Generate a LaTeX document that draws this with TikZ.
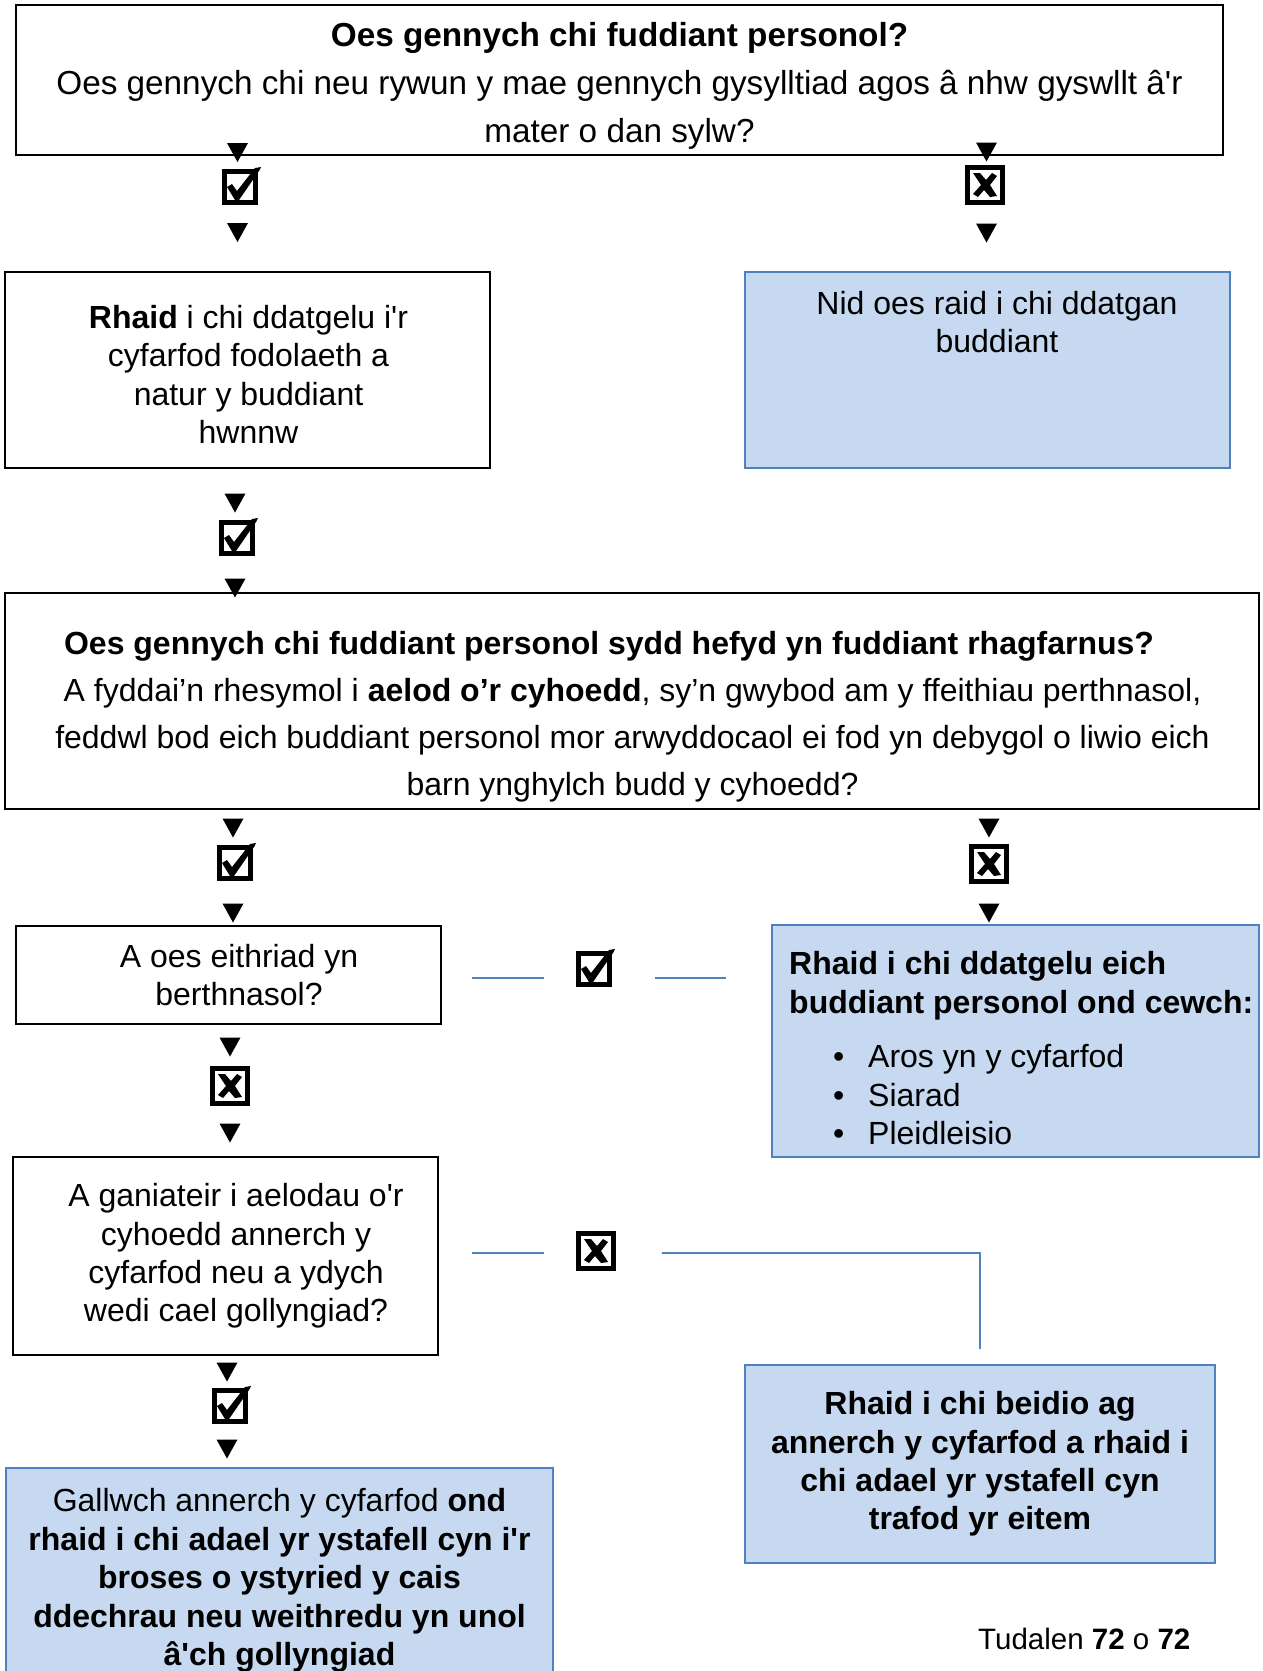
\documentclass[tikz,border=0pt]{standalone}
\usepackage{fontspec}
\setmainfont{Liberation Sans}[Ligatures=TeXOff]
\definecolor{lineblue}{RGB}{79,129,189}
\definecolor{fillblue}{RGB}{198,217,240}
\tikzset{
  x=1pt, y=-1pt,
  txt/.style={font=\fontsize{32}{38.4}\selectfont, align=center, inner sep=0pt},
  blackbox/.style={draw=black, line width=1.8pt, inner sep=0pt},
  bluebox/.style={draw=lineblue, fill=fillblue, line width=1.8pt, inner sep=0pt},
  symbox/.style={draw=black, line width=4.5pt, minimum size=31pt, inner sep=0pt},
  xbox/.style={draw=black, line width=5pt, minimum size=35pt, inner sep=0pt},
  bline/.style={draw=lineblue, line width=1.8pt},
}
\newcommand\tickbox[3]{%
  \node[symbox] (#1) at (#2,#3) {};
  \fill[shift={(#1.center)}] (-13,0) -- (-8,-3) -- (-3,4) -- (15,-19) -- (21,-20) -- (19,-16) -- (-1,13) -- (-5,13) -- cycle;
}
\newcommand\crossbox[3]{%
  \node[xbox] (#1) at (#2,#3) {};
  \fill[shift={(#1.center)}] (-12,-12) -- (-5,-12) -- (1,-5) -- (7,-12) -- (12,-9) -- (5,0) -- (12,11) -- (5,12) -- (-1,5) -- (-7,12) -- (-12,9) -- (-4,0) -- cycle;
}
\newcommand\tri[3]{%
  \coordinate (#1) at (#2,#3);
  \fill ([shift={(-10.5,-9.5)}]#1) -- ([shift={(10.5,-9.5)}]#1) -- ([shift={(0,9.5)}]#1) -- cycle;
}
\begin{document}
\begin{tikzpicture}
\clip (0,0) rectangle (1262,1671);
\fill[white] (0,0) rectangle (1262,1671);

% top question
\node[blackbox, minimum width=1207pt, minimum height=150pt] (q1) at (619.5,80) {};
\node[txt, font=\fontsize{33.3}{48}\selectfont] (q1t) at (619.5,85.5)
  {\textbf{Oes gennych chi fuddiant personol?}\\
   Oes gennych chi neu rywun y mae gennych gysylltiad agos â nhw gyswllt â'r\\
   mater o dan sylw?};

\tri{a1}{237.5}{152.5}
\tickbox{s1}{240}{187}
\tri{a2}{237.5}{232.5}
\tri{a3}{986.5}{152}
\crossbox{s2}{985}{185}
\tri{a4}{986.5}{233}

% second row
\node[blackbox, minimum width=485pt, minimum height=196pt] (b2) at (247.5,370) {};
\node[txt] (b2t) at (248.5,374.5)
  {\textbf{Rhaid} i chi ddatgelu i'r\\ cyfarfod fodolaeth a\\ natur y buddiant\\ hwnnw};
\node[bluebox, minimum width=485pt, minimum height=196pt] (b3) at (987.5,370) {};
\node[txt] (b3t) at (997,322) {Nid oes raid i chi ddatgan\\ buddiant};

\tri{a5}{235}{503}
\tickbox{s3}{237}{538}
\tri{a6}{235}{588}

% big question
\node[blackbox, minimum width=1254pt, minimum height=216pt] (q2) at (632,701) {};
\node[txt, font=\fontsize{32}{47}\selectfont] (q2t) at (632.5,716.5)
  {\textbf{Oes gennych chi fuddiant personol sydd hefyd yn fuddiant rhagfarnus?}\hspace*{47pt}\\
   A fyddai’n rhesymol i \textbf{aelod o’r cyhoedd}, sy’n gwybod am y ffeithiau perthnasol,\\
   feddwl bod eich buddiant personol mor arwyddocaol ei fod yn debygol o liwio eich\\
   barn ynghylch budd y cyhoedd?};

\tri{a7}{233}{828}
\tickbox{s4}{235}{863}
\tri{a8}{233}{913}
\tri{a9}{989}{828}
\crossbox{s5}{989}{864}
\tri{a10}{989}{913}

% exception row
\node[blackbox, minimum width=425pt, minimum height=98pt] (b4) at (228.5,975) {};
\node[txt] (b4t) at (239,975) {A oes eithriad yn\\ berthnasol?};
\node[bluebox, minimum width=487pt, minimum height=232pt] (b5) at (1015.5,1041) {};
\node[txt, align=left, anchor=north west] (b5t) at (789,951.5)
  {\textbf{Rhaid i chi ddatgelu eich}\\
   \textbf{buddiant personol ond cewch:}\\[16pt]
   \hspace*{44pt}\makebox[35pt][l]{•}Aros yn y cyfarfod\\
   \hspace*{44pt}\makebox[35pt][l]{•}Siarad\\
   \hspace*{44pt}\makebox[35pt][l]{•}Pleidleisio};

\coordinate (l1a) at (472,978);
\coordinate (l1b) at (544,978);
\tickbox{s6}{594}{969}
\coordinate (l2a) at (655,978);
\coordinate (l2b) at (726,978);
\draw[bline] (l1a) -- (l1b);
\draw[bline] (l2a) -- (l2b);

\tri{a11}{230}{1047}
\crossbox{s7}{230}{1086}
\tri{a12}{230}{1133}

% dispensation row
\node[blackbox, minimum width=425pt, minimum height=198pt] (b6) at (225.5,1256) {};
\node[txt] (b6t) at (236,1256)
  {A ganiateir i aelodau o'r\\ cyhoedd annerch y\\ cyfarfod neu a ydych\\ wedi cael gollyngiad?};

\coordinate (l3a) at (472,1253);
\coordinate (l3b) at (544,1253);
\crossbox{s8}{596}{1251}
\coordinate (l4a) at (662,1253);
\coordinate (l4c) at (980,1253);
\coordinate (l4b) at (980,1349);
\draw[bline] (l3a) -- (l3b);
\draw[bline] (l4a) -- (l4c) -- (l4b);

\node[bluebox, minimum width=470pt, minimum height=198pt] (b7) at (980,1464) {};
\node[txt, font=\bfseries\fontsize{32}{38.4}\selectfont] (b7t) at (980,1464)
  {Rhaid i chi beidio ag\\ annerch y cyfarfod a rhaid i\\ chi adael yr ystafell cyn\\ trafod yr eitem};

\tri{a13}{227}{1372}
\tickbox{s9}{230}{1406}
\tri{a14}{227}{1449}

\node[bluebox, minimum width=547pt, minimum height=260pt, anchor=north] (b8) at (279.5,1467) {};
\node[txt, anchor=north] (b8t) at (279.5,1488.5)
  {Gallwch annerch y cyfarfod \textbf{ond}\\
   \textbf{rhaid i chi adael yr ystafell cyn i'r}\\
   \textbf{broses o ystyried y cais}\\
   \textbf{ddechrau neu weithredu yn unol}\\
   \textbf{â'ch gollyngiad}};

\node[inner sep=0pt, font=\fontsize{29.5}{35}\selectfont, anchor=west] (pg) at (978,1639)
  {Tudalen \textbf{72} o \textbf{72}};
\end{tikzpicture}
\end{document}
